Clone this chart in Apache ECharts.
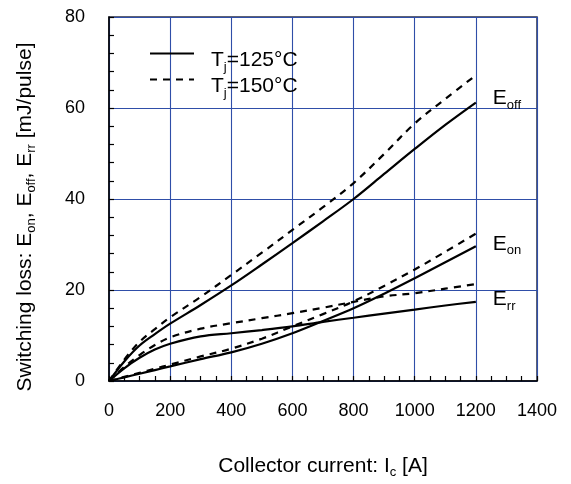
<!DOCTYPE html>
<html><head><meta charset="utf-8">
<script src="https://cdn.jsdelivr.net/npm/echarts@6/dist/echarts.min.js"></script>
<style>html,body{margin:0;padding:0;background:#fff}#c{width:571px;height:484px}</style>
</head><body><div id="c"></div>
<script>
const current = [0, 50, 100, 150, 200, 300, 400, 500, 600, 700, 800, 900, 1000, 1100, 1200];
const eoff125 = [0, 4.3, 7.8, 10.3, 12.6, 16.7, 21.0, 25.6, 30.3, 35.1, 40.0, 45.5, 51.0, 56.3, 61.2];
const eoff150 = [0, 4.7, 8.6, 11.4, 14.0, 18.5, 23.3, 28.2, 33.2, 38.2, 43.5, 49.9, 56.6, 62.0, 67.2];
const eon125  = [0, 0.8, 1.6, 2.4, 3.2, 4.8, 6.3, 8.2, 10.5, 13.2, 16.0, 19.2, 22.6, 26.1, 29.6];
const eon150  = [0, 0.9, 1.8, 2.7, 3.6, 5.4, 7.1, 9.3, 12.0, 14.7, 17.5, 20.9, 24.5, 28.4, 32.4];
const err125  = [0, 2.8, 5.1, 6.9, 8.2, 9.8, 10.5, 11.2, 12.0, 13.0, 13.9, 14.8, 15.7, 16.6, 17.4];
const err150  = [0, 3.1, 5.7, 7.9, 9.6, 11.5, 12.7, 13.8, 14.9, 16.1, 17.4, 18.6, 19.3, 20.3, 21.3];
const xTicks = [0, 200, 400, 600, 800, 1000, 1200, 1400];
const yTicks = [0, 20, 40, 60, 80];
const name125 = 'Tj=125°C';
const name150 = 'Tj=150°C';
const labelOff = 'off', labelOn = 'on', labelRr = 'rr';

const FONT = 'Arial, "Liberation Sans", sans-serif';
const pair = (xs, ys) => xs.map((x, i) => [x, ys[i]]);

function mkSeries(name, data, dashed, endSub, endOffset) {
  const s = {
    type: 'line', name: name, data: pair(current, data),
    smooth: 0.35, symbol: 'none', silent: true, animation: false,
    lineStyle: { color: '#000', width: 2.2, type: dashed ? [7, 6] : 'solid' },
    itemStyle: { color: '#000' }
  };
  if (endSub) {
    s.endLabel = {
      show: true, distance: 17, offset: endOffset,
      formatter: () => '{e|E}{s|' + endSub + '}',
      rich: {
        e: { fontSize: 21, fontFamily: FONT, color: '#000', lineHeight: 22, verticalAlign: 'bottom' },
        s: { fontSize: 13, fontFamily: FONT, color: '#000', lineHeight: 13, verticalAlign: 'bottom', padding: [0, 0, -3, 0] }
      }
    };
  }
  return s;
}

const legendRich = {
  t: { fontSize: 21, fontFamily: FONT, color: '#000', lineHeight: 24, verticalAlign: 'bottom' },
  s: { fontSize: 13, fontFamily: FONT, color: '#000', lineHeight: 13, verticalAlign: 'bottom', padding: [0, 0, -3, 0] }
};
const legendFmt = n => '{t|' + n.charAt(0) + '}{s|' + n.charAt(1) + '}{t|' + n.slice(2) + '}';
function mkLegend(name, top) {
  return {
    data: [name], left: 144, top: top, orient: 'vertical',
    itemWidth: 44, itemHeight: 14, selectedMode: false,
    itemStyle: { opacity: 0, borderWidth: 0 },
    formatter: legendFmt,
    textStyle: { padding: [11, 0, 0, 12], rich: legendRich }
  };
}

const yName = '{t|Switching loss: E}{s|on}{t|, E}{s|off}{t|, E}{s|rr}{t| [mJ/pulse]}';
const xName = '{t|Collector current: I}{s|c}{t| [A]}';
const mkNameRich = fs => ({
  t: { fontSize: fs, fontFamily: FONT, color: '#000', lineHeight: fs + 3, verticalAlign: 'bottom' },
  s: { fontSize: Math.round(fs * 0.63), fontFamily: FONT, color: '#000', lineHeight: 12, verticalAlign: 'bottom', padding: [0, 0, -2, 0] }
});

const option = {
  backgroundColor: '#fff',
  animation: false,
  grid: { left: 109, right: 34, top: 17, bottom: 101, show: true, borderColor: '#2a2f45', borderWidth: 1.5, backgroundColor: 'transparent' },
  legend: [mkLegend(name125, 43), mkLegend(name150, 69)],
  xAxis: {
    type: 'value', min: xTicks[0], max: xTicks[xTicks.length - 1], interval: 200,
    name: xName, nameLocation: 'middle', nameGap: 72,
    nameTextStyle: { rich: mkNameRich(21) },
    axisLine: { show: true, lineStyle: { color: '#000', width: 1.5 } },
    axisTick: { show: true, inside: true, length: 5, lineStyle: { color: '#000', width: 1.2 } },
    minorTick: { show: true, splitNumber: 4, length: 5, lineStyle: { color: '#000', width: 1.2 } },
    axisLabel: { fontSize: 18, fontFamily: FONT, color: '#000', margin: 21, formatter: v => String(v) },
    splitLine: { show: true, lineStyle: { color: '#2f4ea8', width: 1.1 } }
  },
  yAxis: {
    type: 'value', min: yTicks[0], max: yTicks[yTicks.length - 1], interval: 20,
    name: yName, nameLocation: 'middle', nameGap: 73,
    nameTextStyle: { rich: mkNameRich(21), padding: [0, 36, 0, 0] },
    axisLine: { show: true, lineStyle: { color: '#000', width: 1.5 } },
    axisTick: { show: true, inside: true, length: 5, lineStyle: { color: '#000', width: 1.2 } },
    minorTick: { show: true, splitNumber: 5, length: 5, lineStyle: { color: '#000', width: 1.2 } },
    axisLabel: { fontSize: 18, fontFamily: FONT, color: '#000', margin: 24, formatter: v => String(v) },
    splitLine: { show: true, lineStyle: { color: '#2f4ea8', width: 1.1 } }
  },
  series: [
    mkSeries(name125, eoff125, false, labelOff, [0, -5]),
    mkSeries(name150, eoff150, true),
    mkSeries(name125, eon125, false, labelOn, [0, -3]),
    mkSeries(name150, eon150, true),
    mkSeries(name125, err125, false, labelRr, [0, -3]),
    mkSeries(name150, err150, true)
  ]
};
const chart = echarts.init(document.getElementById('c'), null, { renderer: 'canvas' });
chart.setOption(option);
</script></body></html>
